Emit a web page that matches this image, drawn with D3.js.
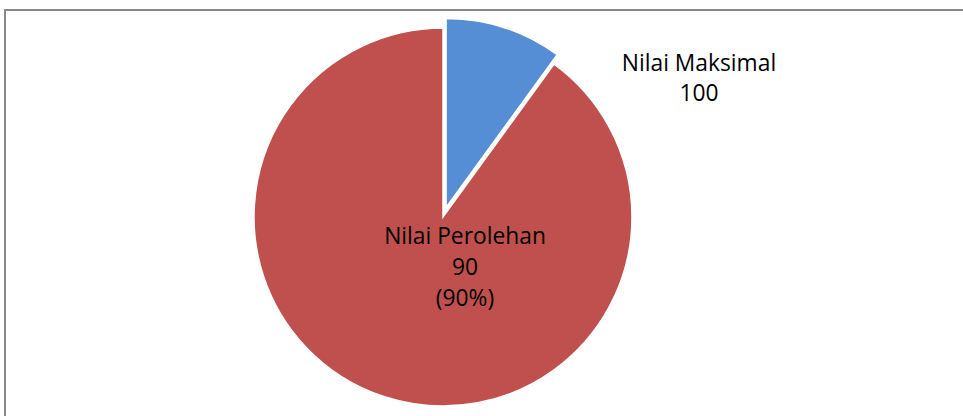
<!DOCTYPE html>
<meta charset="utf-8">
<style>
body { margin: 0; background: #fff; }
svg { display: block; }
text { font-family: "Open Sans", sans-serif; font-size: 22.8px; fill: #000; }
</style>
<body>
  <svg id="chart" width="963" height="416"></svg>
</body>
<script src="https://d3js.org/d3.v7.min.js"></script>
<script>
// Data
var categories = ["Nilai Maksimal", "Nilai Perolehan"],
  shares = [10, 90],            // slice sizes as drawn
  shownValues = ["100", "90"],  // values written in the labels
  colors = ["#558ed5", "#c0504d"];

var svg = d3.select("#chart");

// frame around the chart area (runs off the right and bottom edge)
svg.append("rect")
  .attr("x", 5).attr("y", 10)
  .attr("width", 1000).attr("height", 450)
  .attr("fill", "none")
  .attr("stroke", "#898989")
  .attr("stroke-width", 2);

var cx = 443, cy = 217, radius = 189, explode = 10;

var pie = d3.pie().sort(null).value(function (d) { return d; });
var arc = d3.arc().innerRadius(0).outerRadius(radius);
var slices = pie(shares);
var total = d3.sum(shares);

var g = svg.append("g").attr("transform", "translate(" + cx + "," + cy + ")");

g.selectAll("path").data(slices).enter().append("path")
  .attr("d", arc)
  .attr("fill", function (d, i) { return colors[i]; })
  .attr("stroke", "#fff")
  .attr("stroke-width", 1.5)
  .attr("transform", function (d, i) {
    if (i != 0) return null;
    var a = (d.startAngle + d.endAngle) / 2;
    return "translate(" + (explode * Math.sin(a)) + "," + (-explode * Math.cos(a)) + ")";
  });

// labels
var maxLabel = svg.append("text").attr("text-anchor", "middle");
maxLabel.append("tspan").attr("x", 699).attr("y", 71).text(categories[0]);
maxLabel.append("tspan").attr("x", 699).attr("y", 101).text(shownValues[0]);

var gotLabel = svg.append("text").attr("text-anchor", "middle");
gotLabel.append("tspan").attr("x", 465).attr("y", 244).text(categories[1]);
gotLabel.append("tspan").attr("x", 465).attr("y", 275).text(shownValues[1]);
gotLabel.append("tspan").attr("x", 465).attr("y", 306)
  .text("(" + Math.round(shares[1] / total * 100) + "%)");
</script>
